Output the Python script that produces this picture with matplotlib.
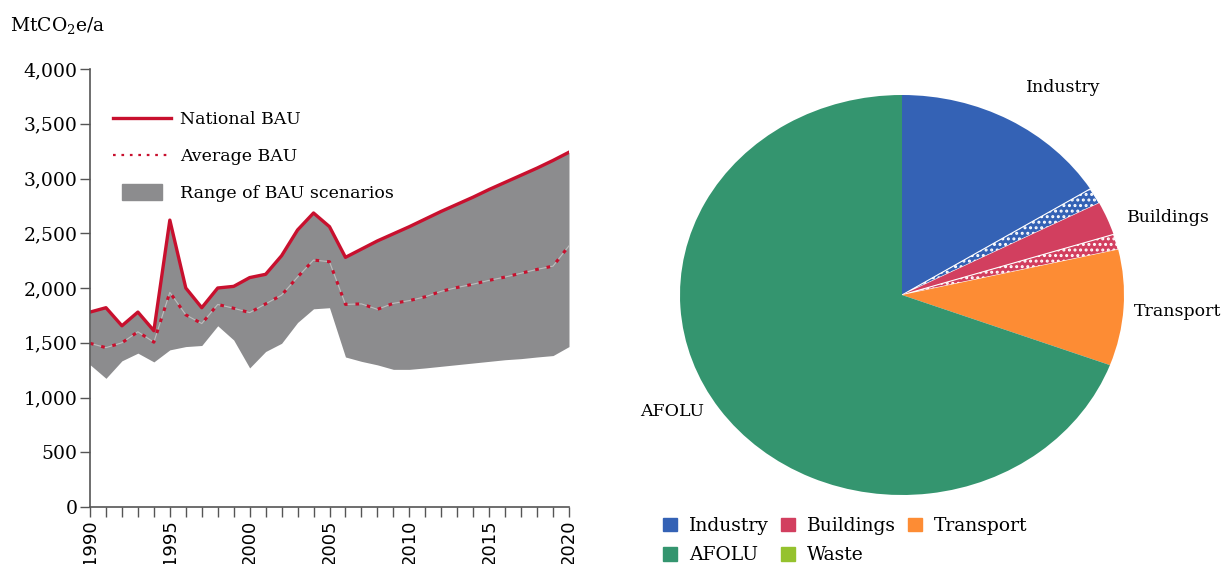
import numpy as np
import matplotlib
matplotlib.use("Agg")
import matplotlib.pyplot as plt
import matplotlib.patches as mpatches
from matplotlib.legend_handler import HandlerPatch
from matplotlib.lines import Line2D

plt.rcParams['font.family'] = ['DejaVu Serif']
plt.rcParams['mathtext.fontset'] = 'dejavuserif'
plt.rcParams['hatch.linewidth'] = 1.4

# ============ data: BAU emissions ============
years = list(range(1990, 2021))
national_bau = [1780, 1820, 1655, 1780, 1610, 2620, 2000, 1820, 2000, 2015,
                2095, 2125, 2295, 2530, 2685, 2560, 2280, 2355, 2430, 2495,
                2560, 2630, 2700, 2765, 2830, 2900, 2965, 3030, 3095, 3165,
                3240]
average_bau = [1495, 1455, 1500, 1600, 1505, 1960, 1755, 1675, 1850, 1815,
               1775, 1855, 1935, 2100, 2255, 2240, 1850, 1855, 1805, 1860,
               1885, 1920, 1970, 2005, 2035, 2070, 2100, 2135, 2170, 2200,
               2385]
range_low = [1300, 1175, 1335, 1405, 1325, 1435, 1465, 1475, 1655, 1525,
             1270, 1420, 1495, 1685, 1810, 1820, 1370, 1330, 1298, 1257,
             1257, 1270, 1285, 1300, 1315, 1330, 1345, 1355, 1370, 1383,
             1465]

# ============ data: sector shares (pie) ============
sectors = ['Industry', 'Industry (hatched)', 'Buildings', 'Buildings (hatched)',
           'Transport', 'AFOLU', 'Waste']
shares = [16.1, 1.3, 2.7, 1.25, 9.35, 69.3, 0.0]
hatched = [False, True, False, True, False, False, False]
# row-major in the picture; matplotlib fills legend columns first
legend_sectors = ['Industry', 'AFOLU', 'Buildings', 'Waste', 'Transport']
sector_colors = {'Industry': '#3462b5', 'Buildings': '#d23f5f',
                 'Transport': '#fd8c34', 'AFOLU': '#34956f', 'Waste': '#95c22e'}

RED = '#c8102e'
GREY_FILL = '#8c8c8e'
AX_GREY = '#555555'

fig = plt.figure(figsize=(12.24, 5.64), dpi=100)

# ---------- left: line chart ----------
ax = fig.add_axes([90 / 1224, 57 / 564, 479 / 1224, 438 / 564])
ax.fill_between(years, range_low, national_bau, color=GREY_FILL, lw=0,
                label='Range of BAU scenarios')
ax.plot(years, average_bau, color='#bdbdbd', lw=0.8)
ax.plot(years, average_bau, color=RED, lw=2.2, linestyle=(0, (1.2, 2.6)),
        label='Average BAU')
ax.plot(years, national_bau, color=RED, lw=2.4, label='National BAU')

ax.set_xlim(1990, 2020)
ax.set_ylim(0, 4000)
ax.set_yticks(np.arange(0, 4001, 500))
ax.set_yticklabels([f'{v:,}' for v in range(0, 4001, 500)], fontsize=13.5)
ax.set_xticks(range(1990, 2021, 5))
ax.set_xticks(range(1990, 2021), minor=True)
ax.set_xticklabels([str(y) for y in range(1990, 2021, 5)], rotation=90,
                   fontsize=13, family='DejaVu Sans')
ax.tick_params(axis='both', which='both', direction='out', length=7,
               color=AX_GREY, width=1.0, pad=2)
for s in ['top', 'right']:
    ax.spines[s].set_visible(False)
for s in ['left', 'bottom']:
    ax.spines[s].set_color(AX_GREY)
    ax.spines[s].set_linewidth(1.2)

fig.text(10 / 1224, 1 - 25 / 564, 'MtCO$_2$e/a', fontsize=13.5, va='center',
         ha='left')


def small_rect(legend, orig_handle, xdescent, ydescent, width, height, fontsize):
    return mpatches.Rectangle((-xdescent + width * 0.15, -ydescent - height * 0.15),
                              width * 0.7, height * 1.3)


h_nat = Line2D([], [], color=RED, lw=2.4)
h_avg = Line2D([], [], color=RED, lw=1.6, linestyle=(0, (1.2, 2.6)))
h_rng = mpatches.Patch(color=GREY_FILL)
leg = ax.legend([h_nat, h_avg, h_rng],
                ['National BAU', 'Average BAU', 'Range of BAU scenarios'],
                loc='upper left', bbox_to_anchor=(0.016, 0.94), frameon=False,
                fontsize=12.5, handlelength=3.3, handletextpad=0.55,
                labelspacing=1.15,
                handler_map={mpatches.Patch: HandlerPatch(patch_func=small_rect)})

# ---------- right: pie ----------
pax = fig.add_axes([680 / 1224, 69 / 564, 444 / 1224, 400 / 564])
colors = []
for name in sectors:
    base = name.split(' (')[0]
    colors.append(sector_colors[base])
wedges, _ = pax.pie(shares, colors=colors, startangle=90, counterclock=False,
                    wedgeprops=dict(linewidth=0))
for w, h in zip(wedges, hatched):
    if h:
        w.set_hatch('...')
        w.set_edgecolor('white')
        w.set_linewidth(0.8)
pax.set_aspect('auto')
pax.set_xlim(-1, 1)
pax.set_ylim(-1, 1)
pax.axis('off')

pax.text(0.725, 1.035, 'Industry', ha='center', va='center', fontsize=12.5)
pax.text(1.198, 0.385, 'Buildings', ha='center', va='center', fontsize=12.5)
pax.text(1.243, -0.085, 'Transport', ha='center', va='center', fontsize=12.5)
pax.text(-1.036, -0.58, 'AFOLU', ha='center', va='center', fontsize=12.5)

handles = [mpatches.Patch(color=sector_colors[s]) for s in legend_sectors]
fig.legend(handles, legend_sectors, ncol=3, loc='upper left',
           bbox_to_anchor=(650 / 1224, 1 - 504 / 564), frameon=False,
           fontsize=13.5, handlelength=0.75, handleheight=0.75,
           handletextpad=0.62, columnspacing=0.65, labelspacing=0.6,
           borderpad=0.2)

fig.savefig('out.png', dpi=100)
